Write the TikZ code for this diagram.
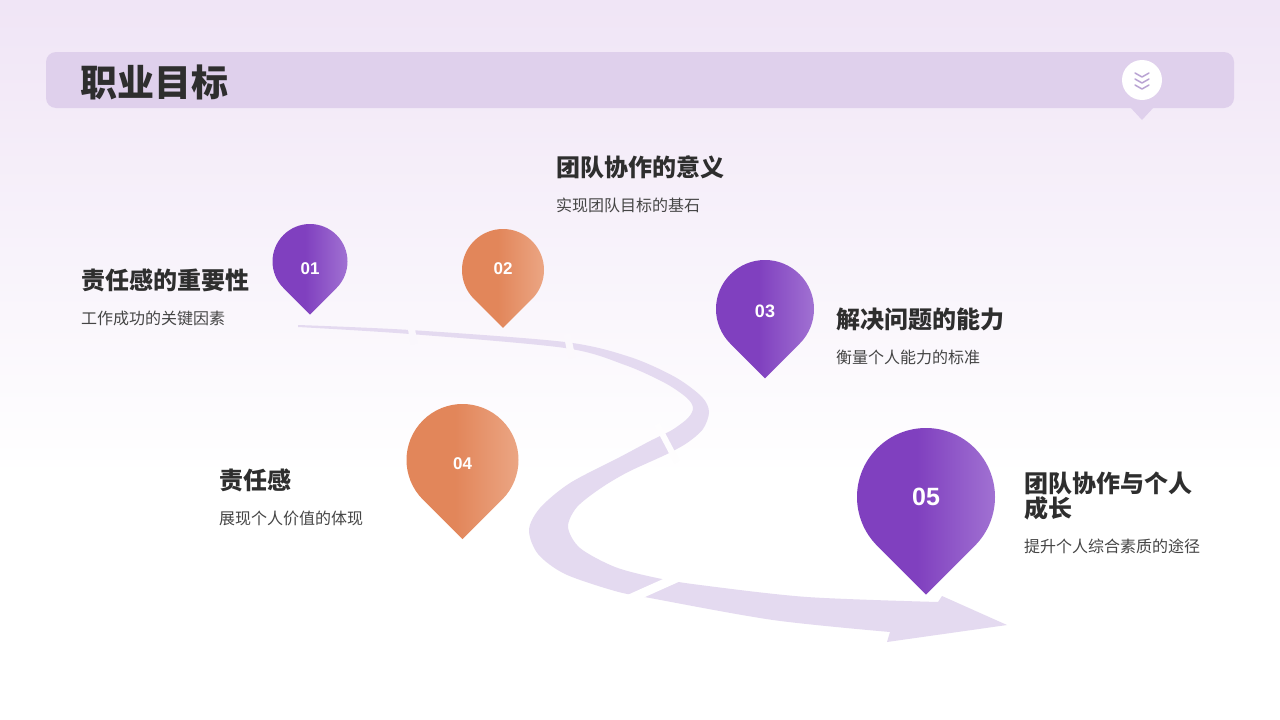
\documentclass[tikz,border=0pt]{standalone}
\usepackage{fontspec}
\setmainfont{Noto Sans CJK SC}
\newfontfamily\numfont{Liberation Sans}
\usetikzlibrary{positioning,calc}
\definecolor{CGbgtop}{HTML}{F0E5F6}
\definecolor{CGbar}{HTML}{DFD0EC}
\definecolor{CGroad}{HTML}{E4DAF0}
\definecolor{CGpurple}{HTML}{8040BF}
\definecolor{CGlightpurple}{HTML}{A77BD6}
\definecolor{CGorange}{HTML}{E2865A}
\definecolor{CGlightorange}{HTML}{EDAC8C}
\definecolor{CGdark}{HTML}{2E2E2E}
\definecolor{CGtext}{HTML}{454545}
\definecolor{CGicon}{HTML}{B9A3D3}
\pgfdeclareverticalshading{bgshade}{100bp}{color(0bp)=(white); color(25bp)=(white); color(42bp)=(white); color(75bp)=(CGbgtop); color(100bp)=(CGbgtop)}
\pgfdeclarehorizontalshading{purplepin}{100bp}{color(0bp)=(CGpurple); color(47bp)=(CGpurple); color(78bp)=(CGlightpurple); color(100bp)=(CGlightpurple)}
\pgfdeclarehorizontalshading{orangepin}{100bp}{color(0bp)=(CGorange); color(47bp)=(CGorange); color(78bp)=(CGlightorange); color(100bp)=(CGlightorange)}

\begin{document}
\begin{tikzpicture}[x=1pt,y=-1pt,
    head/.style={inner sep=0pt,anchor=west,align=left,text=CGdark,font=\fontsize{24}{22}\selectfont\bfseries},
    sub/.style={inner sep=0pt,text=CGtext,font=\fontsize{16}{19}\selectfont},
    num/.style={inner sep=0pt,text=white},
    chev/.style={CGicon,line width=1.5pt,line cap=round,line join=round},
  ]
    % BACKGROUND
    \useasboundingbox (0,0) rectangle (1280,720);
    \shade[shading=bgshade] (0,0) rectangle (1280,720);

    % HEADER
    \fill[CGbar,rounded corners=10pt] (46,52) rectangle (1234,108);
    \fill[CGbar] (1130,107) -- (1154,107) -- (1142,120) -- cycle;
    \node[inner sep=0pt,anchor=west,text=CGdark,font=\fontsize{37}{37}\selectfont\bfseries] (title) at (80,82) {职业目标};
    \node[circle,fill=white,minimum size=40pt,inner sep=0pt] (icon) at (1142,80) {};
    \foreach \dy in {-7,-1,5}
      \draw[chev] ($(icon)+(-7,\dy)$) -- ++(7,4) -- ++(7,-4);

    % ROAD
    \fill[CGroad] plot[smooth] coordinates {(298,325) (410,330) (565,342) (630,357) (675,377) (702,397) (709,412) (703,429) (687,443) (665,455) (628,472) (601,488) (577,507) (568,527) (580,548) (615,567) (657,578) (700,585) (807,597) (938,602)}
      -- (942,596) -- (1007,625) -- (887,642) -- (890,632)
      -- plot[smooth] coordinates {(890,632) (773,620) (650,598) (615,591) (565,574) (538,554) (529,530) (540,508) (570,483) (620,457) (650,441) (672,430) (688,418) (693,408) (687,398) (665,383) (625,365) (565,348) (410,334) (298,327)}
      -- cycle;
    % road gaps
    \draw[line width=7pt,CGbgtop!30!white] (410,320) -- (414,344);
    \draw[line width=7pt,CGbgtop!27!white] (567,334) -- (572,358);
    \draw[line width=6pt,CGbgtop!7!white] (657,424) -- (677,462);
    \draw[line width=9pt,white] (625,601) -- (683,575);

    % PINS
    \foreach \n/\px/\py/\r/\shd/\ny/\fs in {01/310/261.5/37.5/purplepin/269/17,02/503/270/41/orangepin/269/17,03/765/309/49/purplepin/311/18,04/462.5/460/56/orangepin/464/17,05/926/497/69/purplepin/497/25}{
      \shade[shading=\shd] (\px,\py+1.4142*\r) -- (\px+0.7071*\r,\py+0.7071*\r) arc[start angle=-45,end angle=225,radius=\r pt] -- cycle;
      \node[num,font=\numfont\fontsize{\fs}{\fs}\selectfont\bfseries] (pin\n) at (\px,\ny) {\n};
    }

    % TEXTS
    \node[head] (h1) at (81,280) {责任感的重要性};
    \node[sub,below=19pt of h1.south west,anchor=north west] (s1) {工作成功的关键因素};
    \node[head] (h2) at (556,167) {团队协作的意义};
    \node[sub,below=19pt of h2.south west,anchor=north west] (s2) {实现团队目标的基石};
    \node[head] (h3) at (836,319) {解决问题的能力};
    \node[sub,below=19pt of h3.south west,anchor=north west] (s3) {衡量个人能力的标准};
    \node[head] (h4) at (219,480) {责任感};
    \node[sub,below=19pt of h4.south west,anchor=north west] (s4) {展现个人价值的体现};
    \node[head] (h5) at (1024,496) {团队协作与个人\\成长};
    \node[sub,below=19pt of h5.south west,anchor=north west] (s5) {提升个人综合素质的途径};
\end{tikzpicture}
\end{document}
